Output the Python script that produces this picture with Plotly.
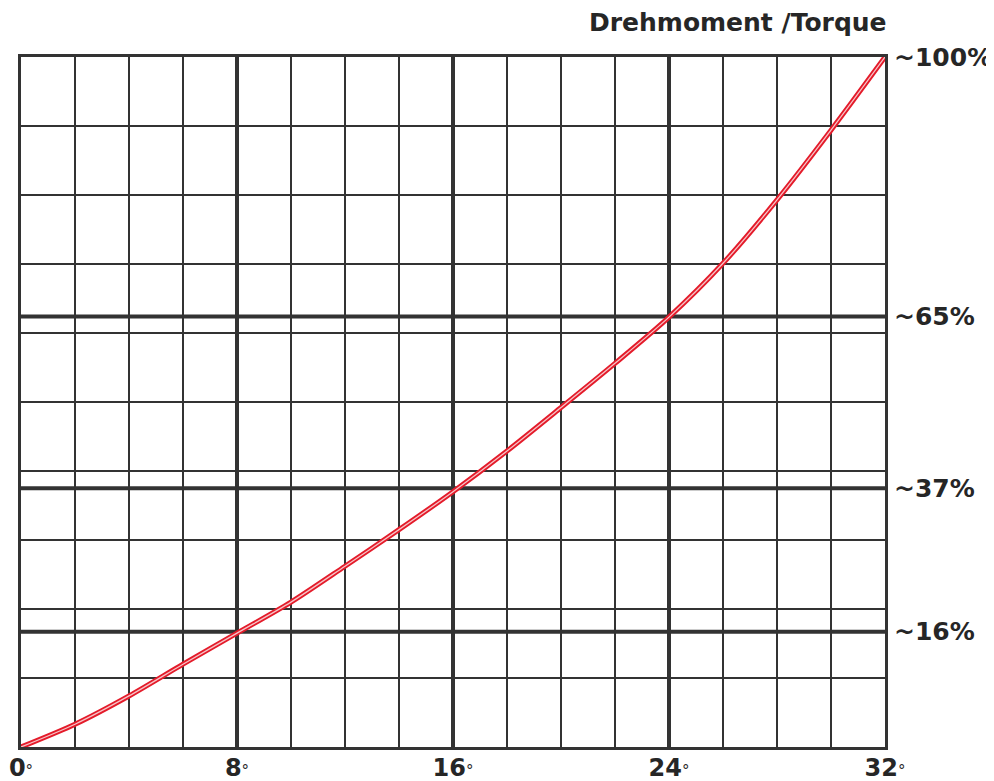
import plotly.graph_objects as go

# Data
angle_deg = [0, 2, 4, 6, 8, 10, 12, 14, 16, 18, 20, 22, 24, 26, 28, 30, 32]
torque_pct = [0, 3.3, 7.4, 12.0, 16.5, 21.0, 26.2, 31.5, 37.0, 42.9, 49.2, 55.6, 62.3, 70.1, 79.3, 89.4, 100]

x_tick_vals = [0, 8, 16, 24, 32]
x_tick_text = ["0", "8", "16", "24", "32"]

level_vals = [16.7, 37.5, 62.4, 100]
level_text = ["~16%", "~37%", "~65%", "~100%"]
thick_x = [8, 16, 24]
thick_y = [16.7, 37.5, 62.4]

title_text = "Drehmoment /Torque"

GRID = "#333333"
RED = "#e41b2a"
FONT = "DejaVu Sans"
TXT = "#262626"

fig = go.Figure()

# Thick reference lines
for xv in thick_x:
    fig.add_shape(type="line", xref="x", yref="y", x0=xv, x1=xv, y0=0, y1=100,
                  line=dict(color=GRID, width=4), layer="below")
for yv in thick_y:
    fig.add_shape(type="line", xref="x", yref="y", x0=0, x1=32, y0=yv, y1=yv,
                  line=dict(color=GRID, width=4), layer="below")

# Curve (double-stroked look)
fig.add_trace(go.Scatter(x=angle_deg, y=torque_pct, mode="lines",
                         line=dict(color=RED, width=5, shape="spline", smoothing=0.8),
                         hoverinfo="skip", showlegend=False))
fig.add_trace(go.Scatter(x=angle_deg, y=torque_pct, mode="lines",
                         line=dict(color="#f6c3c7", width=1.3, shape="spline", smoothing=0.8),
                         hoverinfo="skip", showlegend=False))

# Right-side level labels
for yv, t in zip(level_vals, level_text):
    fig.add_annotation(x=1, xref="paper", y=yv, yref="y", text="<b>" + t + "</b>",
                       showarrow=False, xanchor="left", yanchor="middle", xshift=7,
                       font=dict(family=FONT, size=25, color=TXT))

# Title above right
fig.add_annotation(x=1, xref="paper", y=1, yref="paper", text="<b>" + title_text + "</b>",
                   showarrow=False, xanchor="right", yanchor="middle", yshift=35, xshift=4,
                   font=dict(family=FONT, size=25, color=TXT))

tick_text_html = ["<b>" + t + "</b><span style='font-size:15px'>°</span>" for t in x_tick_text]

fig.update_layout(
    width=986, height=773,
    margin=dict(l=13, r=109, t=49, b=34, autoexpand=False),
    paper_bgcolor="white", plot_bgcolor="white",
    font=dict(family=FONT, color=TXT),
    xaxis=dict(range=[0, 32], tickvals=x_tick_vals, ticktext=tick_text_html,
               automargin=False,
               showgrid=False, zeroline=False, showline=True, mirror=True,
               linecolor=GRID, linewidth=2.5, ticks="", ticklen=0, ticklabelstandoff=-3,
               tickfont=dict(family=FONT, size=24, color=TXT),
               minor=dict(dtick=2, tick0=0, showgrid=True, gridcolor=GRID, gridwidth=2, ticks="")),
    yaxis=dict(range=[0, 100], dtick=10, tick0=0, showgrid=True, gridcolor=GRID, gridwidth=2,
               automargin=False,
               zeroline=False, showline=True, mirror=True, linecolor=GRID, linewidth=2.5,
               showticklabels=False, ticks=""),
)

fig.write_html("out.html")
